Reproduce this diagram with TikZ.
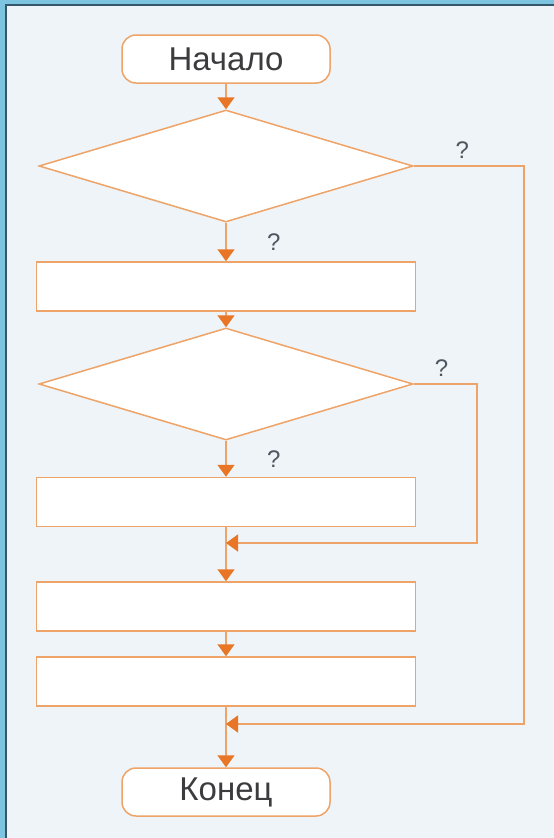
\documentclass[tikz,border=0pt]{standalone}
\usepackage{fontspec}
\setmainfont{Liberation Sans}
\usetikzlibrary{shapes.geometric,arrows.meta}

\definecolor{frameblue}{RGB}{124,196,224}
\definecolor{framedark}{RGB}{52,88,106}
\definecolor{paper}{RGB}{238,244,247}
\definecolor{lineorange}{RGB}{238,164,104}
\definecolor{tiporange}{RGB}{232,118,38}
\definecolor{inkgray}{RGB}{60,60,62}
\definecolor{qgray}{RGB}{78,86,96}

\tikzstyle{term}=[draw=lineorange,line width=1.5pt,fill=white,rounded corners=14pt,minimum width=208pt,minimum height=48pt,inner sep=0pt,text=inkgray,font=\fontsize{33}{36}\selectfont]
\tikzstyle{cond}=[draw=lineorange,line width=1.5pt,fill=white,diamond,aspect=3.34,minimum width=374pt,minimum height=112pt,inner sep=0pt]
\tikzstyle{block}=[draw=lineorange,line width=1.5pt,fill=white,rectangle,minimum width=379pt,minimum height=49pt,inner sep=0pt]
\tikzstyle{edge}=[draw=lineorange,line width=1.5pt,-{Triangle[width=17pt,length=12pt,color=tiporange,fill=tiporange]}]
\tikzstyle{qmark}=[font=\fontsize{24}{26}\selectfont,text=qgray]

\begin{document}
\begin{tikzpicture}[x=1pt,y=-1pt]
    \useasboundingbox (0,0) rectangle (554,838);
    % backdrop and frame
    \fill[paper] (0,0) rectangle (554,838);
    \fill[frameblue] (0,0) rectangle (554,4.5);
    \fill[frameblue] (0,0) rectangle (5.5,838);
    \draw[framedark,line width=1.5pt] (6.2,838) -- (6.2,5.2) -- (554,5.2);
    % First we draw the blocks
    \foreach \pos/\name/\kind/\txt in {{(226,59)/start/term/Начало}, {(226,166)/d1/cond/}, {(226,286.5)/r1/block/},
        {(226,384)/d2/cond/}, {(226,502)/r2/block/}, {(226,606.5)/r3/block/}, {(226,681.5)/r4/block/}, {(226,792)/stop/term/Конец}}
        \node[\kind] (\name) at \pos {\txt};
    % joins on the main line
    \coordinate (k1) at (477,543);
    \coordinate (j1) at (226,543);
    \coordinate (k2) at (524,724);
    \coordinate (j2) at (226,724);
    % Connect blocks down the main line
    \foreach \source/ \dest /\weight in {start/d1/,d1/r1/?,r1/d2/,d2/r2/?,r2/r3/,r3/r4/,r4/stop/}
        \path[edge] (\source.south) -- node[qmark,right=37pt] {\weight} (\dest.north);
    % side branches
    \path[edge] (d1.east) -| node[qmark,pos=0.22,above=3pt] {?} (k2) -- (j2);
    \path[edge] (d2.east) -| node[qmark,pos=0.22,above=3pt] {?} (k1) -- (j1);
\end{tikzpicture}
\end{document}
